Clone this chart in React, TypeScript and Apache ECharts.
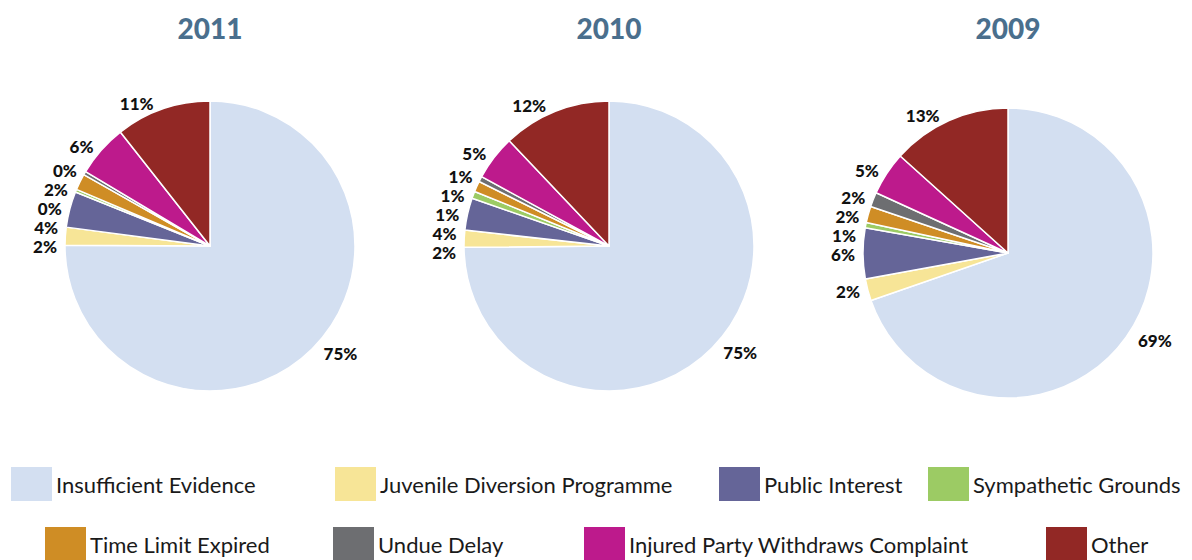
import React, { useEffect, useRef } from "react";
import * as echarts from "echarts";

const categories = [
  "Insufficient Evidence",
  "Juvenile Diversion Programme",
  "Public Interest",
  "Sympathetic Grounds",
  "Time Limit Expired",
  "Undue Delay",
  "Injured Party Withdraws Complaint",
  "Other",
];
const colors = ["#d3dff1", "#f7e597", "#656598", "#9ccb64", "#cf8d25", "#6d6e71", "#bd1a8c", "#922825"];

const years = ["2011", "2010", "2009"];
const values2011 = [75, 2, 4, 0.3, 1.8, 0.4, 5.8, 10.6];
const values2010 = [75, 1.9, 3.6, 0.8, 1.2, 0.6, 5, 12.1];
const values2009 = [69, 2.4, 5.6, 0.6, 1.8, 1.6, 4.8, 13.2];
const allValues = [values2011, values2010, values2009];

const centers = [[210, 246], [609, 246], [1008, 253]];
const legendPos = [
  [9, 465], [333, 465], [717, 465], [926, 465],
  [43, 525], [331, 525], [582, 525], [1044, 525],
];

export default function App() {
  const ref = useRef<HTMLDivElement>(null);
  useEffect(() => {
    if (!ref.current) return;
    const chart = echarts.init(ref.current, null, { renderer: "svg" });
    const font = "Lato, 'Noto Sans', sans-serif";
    chart.setOption({
      animation: false,
      color: colors,
      textStyle: { fontFamily: font },
      title: years.map((y, i) => ({
        text: y,
        left: centers[i][0] - 5,
        top: 9,
        textAlign: "center",
        textStyle: { fontSize: 28, fontWeight: 900, color: "#4a6f8d", fontFamily: font },
      })),
      legend: categories.map((c, i) => ({
        data: [c],
        left: legendPos[i][0],
        top: legendPos[i][1],
        padding: 0,
        itemWidth: 43,
        itemHeight: 36,
        icon: "rect",
        selectedMode: false,
        textStyle: { fontSize: 22, color: "#1a1a1a", fontFamily: font, padding: [0, 0, 0, -2] },
      })),
      series: allValues.map((vals, i) => ({
        type: "pie",
        name: years[i],
        center: centers[i],
        radius: 145,
        startAngle: 90,
        clockwise: true,
        avoidLabelOverlap: true,
        itemStyle: { borderColor: "#ffffff", borderWidth: 1.5 },
        label: {
          show: true,
          position: "outside",
          formatter: (p: any) => Math.round(p.value) + "%",
          fontSize: 17,
          fontWeight: 900,
          color: "#111111",
          fontFamily: font,
        },
        labelLine: { show: false, length: 6, length2: 2 },
        emphasis: { disabled: true },
        data: vals.map((v, j) => ({ name: categories[j], value: v })),
      })),
    });
    return () => chart.dispose();
  }, []);
  return (
    <div
      ref={ref}
      style={{ position: "absolute", left: 0, top: 0, width: 1192, height: 560, background: "#fff" }}
    />
  );
}
